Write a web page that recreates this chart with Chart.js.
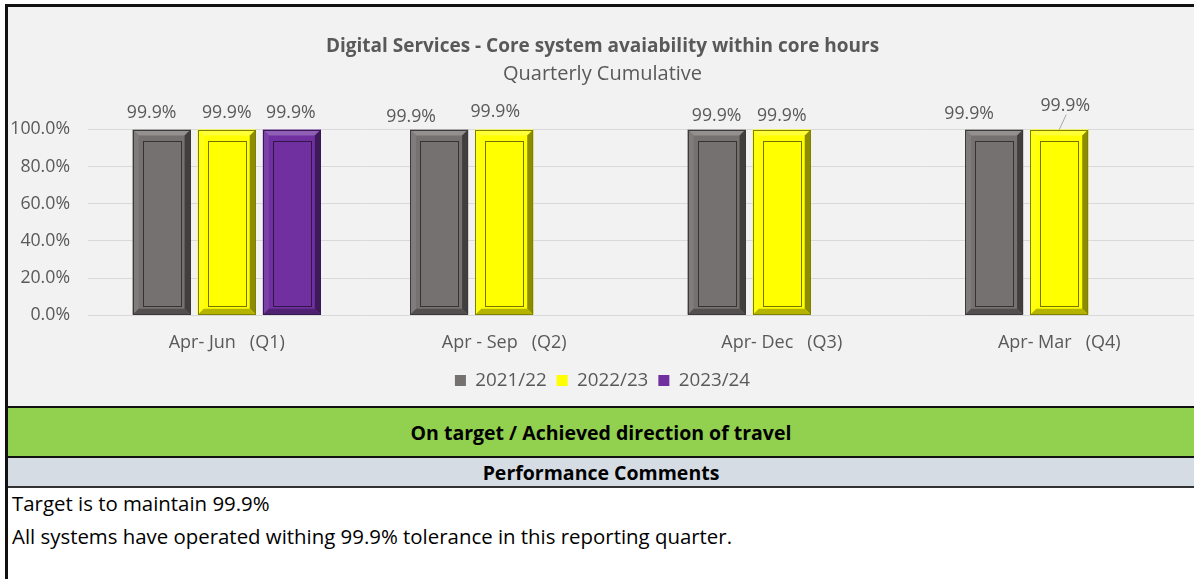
<!DOCTYPE html>
<html><head><meta charset="utf-8">
<script src="https://cdn.jsdelivr.net/npm/chart.js@4/dist/chart.umd.min.js"></script>
<style>
html,body{margin:0;padding:0;overflow:hidden;background:#fff}
#wrap{position:relative;width:1194px;height:579px;overflow:hidden;background:#fff;font-family:"Open Sans",sans-serif}
.abs{position:absolute}
.band{position:absolute;left:8px;width:1186px;display:flex;align-items:center;justify-content:center;font-weight:bold;color:#000;font-size:19.5px}
.txt{position:absolute;left:12px;font-size:20.4px;color:#000;white-space:nowrap;line-height:1}
</style></head>
<body>
<div id="wrap">
  <div class="abs" style="left:8px;top:7px;width:1186px;height:399px;background:#f2f2f2"></div>
  <div class="abs" style="left:7px;top:7px;width:1193px;height:399px"><canvas id="c" width="1193" height="399"></canvas></div>
  <div class="abs" style="left:5px;top:4px;width:1189px;height:3px;background:#111"></div>
  <div class="abs" style="left:5px;top:4px;width:3px;height:575px;background:#111"></div>
  <div class="abs" style="left:8px;top:406px;width:1186px;height:2px;background:#111"></div>
  <div class="band" style="top:408px;height:48px;background:#92d050">On target / Achieved direction of travel</div>
  <div class="abs" style="left:8px;top:456px;width:1186px;height:2px;background:#111"></div>
  <div class="band" style="top:458px;height:28px;background:#d6dce4">Performance Comments</div>
  <div class="abs" style="left:8px;top:486px;width:1186px;height:2px;background:#333"></div>
  <div class="txt" style="top:493px">Target is to maintain 99.9%</div>
  <div class="txt" style="top:526px">All systems have operated withing 99.9% tolerance in this reporting quarter.</div>
</div>
<script>
const categories = ['Apr- Jun   (Q1)', 'Apr - Sep   (Q2)', 'Apr- Dec   (Q3)', 'Apr- Mar   (Q4)'];
const seriesNames = ['2021/22', '2022/23', '2023/24'];
const values2122 = [0.999, 0.999, 0.999, 0.999];
const values2223 = [0.999, 0.999, 0.999, 0.999];
const values2324 = [0.999, null, null, null];
const yTicks = [0, 0.2, 0.4, 0.6, 0.8, 1.0];

const colors = ['#767171', '#ffff00', '#7030a0'];
// label nudges (dx, dy) copied from the reference layout
const labelNudge = [
  [[-10,0],[-28,4],[0,3],[-25,1]],
  [[0,0],[-9,-1],[0,3],[6,-7]],
  [[-1,0],[0,0],[0,0],[0,0]]
];
const FONT = 'Open Sans';

function mix(hex, t) {
  const n = parseInt(hex.slice(1),16);
  let r=(n>>16)&255,g=(n>>8)&255,b=n&255;
  if (t>=0){r+= (255-r)*t; g+=(255-g)*t; b+=(255-b)*t;}
  else {r*=1+t; g*=1+t; b*=1+t;}
  return `rgb(${Math.round(r)},${Math.round(g)},${Math.round(b)})`;
}

const bevelPlugin = {
  id: 'bevel',
  afterDatasetsDraw(chart) {
    const ctx = chart.ctx;
    chart.data.datasets.forEach((ds, i) => {
      const meta = chart.getDatasetMeta(i);
      const base = colors[i];
      meta.data.forEach((bar, j) => {
        if (ds.data[j] == null) return;
        const p = bar.getProps(['x','y','base','width'], true);
        const l = p.x - p.width/2, r = p.x + p.width/2, t = p.y, b = p.base;
        const bw = 6;
        const poly = (pts, fill) => {
          ctx.beginPath(); ctx.moveTo(pts[0][0], pts[0][1]);
          for (let k=1;k<pts.length;k++) ctx.lineTo(pts[k][0], pts[k][1]);
          ctx.closePath(); ctx.fillStyle = fill; ctx.fill();
        };
        ctx.save();
        poly([[l,t],[r,t],[r-bw,t+bw],[l+bw,t+bw]], mix(base, 0.22));
        poly([[l,t],[l+bw,t+bw],[l+bw,b-bw],[l,b]], mix(base, 0.08));
        poly([[r,t],[r,b],[r-bw,b-bw],[r-bw,t+bw]], mix(base, -0.45));
        poly([[l,b],[r,b],[r-bw,b-bw],[l+bw,b-bw]], mix(base, -0.3));
        ctx.strokeStyle = mix(base, -0.5); ctx.lineWidth = 1;
        ctx.strokeRect(Math.round(l)+0.5, Math.round(t)+0.5, Math.round(r-l)-1, Math.round(b-t)-1);
        ctx.strokeStyle = mix(base, -0.55);
        ctx.strokeRect(Math.round(l+10)+0.5, Math.round(t+11)+0.5, Math.round(r-l-20), Math.round(b-t-20));
        ctx.restore();
      });
    });
  }
};

const labelPlugin = {
  id: 'valLabels',
  afterDatasetsDraw(chart) {
    const ctx = chart.ctx;
    ctx.save();
    ctx.font = '17.7px "' + FONT + '"';
    ctx.fillStyle = '#595959';
    ctx.textAlign = 'center';
    ctx.textBaseline = 'middle';
    chart.data.datasets.forEach((ds, i) => {
      const meta = chart.getDatasetMeta(i);
      meta.data.forEach((bar, j) => {
        const v = ds.data[j];
        if (v == null) return;
        const p = bar.getProps(['x','y'], true);
        const [dx, dy] = labelNudge[i][j];
        const lx = p.x + dx, ly = p.y - 17 + dy;
        ctx.fillText((v*100).toFixed(1) + '%', lx, ly);
        if (dy <= -5) {
          ctx.strokeStyle = '#a6a6a6'; ctx.lineWidth = 1;
          ctx.beginPath(); ctx.moveTo(lx + 1, ly + 9); ctx.lineTo(p.x, p.y); ctx.stroke();
        }
      });
    });
    ctx.restore();
  }
};

const datasets = [values2122, values2223, values2324].map((vals, i) => ({
  label: seriesNames[i],
  data: vals,
  backgroundColor: colors[i],
  borderColor: mix(colors[i], -0.5),
  borderWidth: 0,
  categoryPercentage: 0.704,
  barPercentage: 0.89
}));

new Chart(document.getElementById('c'), {
  type: 'bar',
  data: { labels: categories, datasets },
  plugins: [bevelPlugin, labelPlugin],
  options: {
    responsive: false,
    animation: false,
    layout: { padding: { left: 0, right: 2, top: 0, bottom: 6 } },
    plugins: {
      title: {
        display: true,
        text: 'Digital Services - Core system avaiability within core hours',
        color: '#595959',
        font: { family: FONT, size: 19, weight: 'bold', lineHeight: 1.2 },
        padding: { top: 28, bottom: 4 }
      },
      subtitle: {
        display: true,
        text: 'Quarterly Cumulative',
        color: '#595959',
        font: { family: FONT, size: 20, lineHeight: 1.2 },
        padding: { top: 0, bottom: 43.6 }
      },
      legend: {
        position: 'bottom',
        labels: {
          color: '#595959',
          font: { family: FONT, size: 18.8 },
          boxWidth: 11, boxHeight: 11,
          padding: 10
        }
      },
      tooltip: { enabled: false }
    },
    scales: {
      x: {
        afterFit(scale) { scale.height = 46; },
        grid: { display: false, drawTicks: false },
        border: { display: false },
        ticks: { color: '#595959', font: { family: FONT, size: 18 }, padding: 17 }
      },
      y: {
        min: 0, max: 1,
        afterFit(scale) { scale.width = 81; },
        afterBuildTicks(scale) { scale.ticks = yTicks.map(v => ({ value: v })); },
        grid: { color: '#d9d9d9', drawTicks: false },
        border: { display: false },
        ticks: {
          color: '#595959', font: { family: FONT, size: 17.7 }, padding: 18,
          callback: v => (v*100).toFixed(1) + '%'
        }
      }
    }
  }
});
</script>
</body></html>
